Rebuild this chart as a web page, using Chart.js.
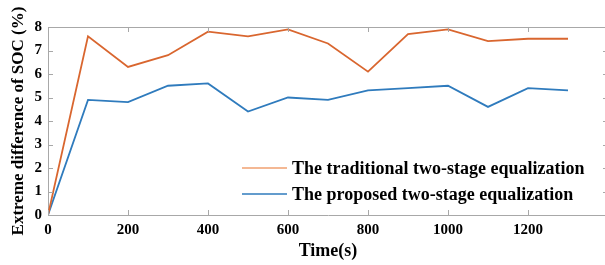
<!DOCTYPE html>
<html>
<head>
<meta charset="utf-8">
<script src="https://cdn.jsdelivr.net/npm/chart.js@4/dist/chart.umd.min.js"></script>
<style>
  html, body { margin: 0; padding: 0; background: #fff; overflow: hidden; }
  #wrap { width: 605px; height: 265px; overflow: hidden; }
</style>
</head>
<body>
<div id="wrap"><canvas id="socChart" width="620" height="265"></canvas></div>
<script>
// data
const times = [0, 100, 200, 300, 400, 500, 600, 700, 800, 900, 1000, 1100, 1200, 1300];
const traditional = [0, 7.6, 6.3, 6.8, 7.8, 7.6, 7.9, 7.3, 6.1, 7.7, 7.9, 7.4, 7.5, 7.5];
const proposed = [0, 4.9, 4.8, 5.5, 5.6, 4.4, 5.0, 4.9, 5.3, 5.4, 5.5, 4.6, 5.4, 5.3];
const seriesNames = ['The traditional two-stage equalization', 'The proposed two-stage equalization'];

const frameColor = '#a8a8a8';
const serif = "'Liberation Serif', 'Times New Roman', serif";

function toPoints(vals) { return times.map((t, i) => ({ x: t, y: vals[i] })); }

// box frame + inward ticks (matlab style)
const framePlugin = {
    id: 'frame',
    afterDraw(chart) {
        const ctx = chart.ctx, a = chart.chartArea;
        const xs = chart.scales.x, ys = chart.scales.y;
        ctx.save();
        ctx.strokeStyle = frameColor;
        ctx.lineWidth = 1;
        ctx.beginPath();
        ctx.moveTo(a.left, a.top + 0.5); ctx.lineTo(a.right, a.top + 0.5);
        ctx.moveTo(a.right - 0.5, a.top); ctx.lineTo(a.right - 0.5, a.bottom);
        xs.ticks.forEach(t => {
            const px = Math.round(xs.getPixelForValue(t.value)) + 0.5;
            ctx.moveTo(px, a.bottom); ctx.lineTo(px, a.bottom - 5);
            ctx.moveTo(px, a.top); ctx.lineTo(px, a.top + 5);
        });
        ys.ticks.forEach(t => {
            const py = Math.round(ys.getPixelForValue(t.value)) + 0.5;
            ctx.moveTo(a.left, py); ctx.lineTo(a.left + 5, py);
            ctx.moveTo(a.right, py); ctx.lineTo(a.right - 5, py);
        });
        ctx.stroke();
        ctx.restore();
    }
};

// legend drawn inside the plot, lower right
const innerLegend = {
    id: 'innerLegend',
    afterDatasetsDraw(chart) {
        const ctx = chart.ctx;
        ctx.save();
        ctx.font = "bold 18px " + serif;
        ctx.textBaseline = 'middle';
        chart.data.datasets.forEach((ds, i) => {
            const y = 168 + i * 26;
            ctx.strokeStyle = ds.legendColor;
            ctx.lineWidth = 1.5;
            ctx.beginPath();
            ctx.moveTo(242, y); ctx.lineTo(287, y);
            ctx.stroke();
            ctx.fillStyle = '#000';
            ctx.fillText(ds.label, 292, y + 1);
        });
        ctx.restore();
    }
};

new Chart(document.getElementById('socChart'), {
    type: 'line',
    data: {
        datasets: [
            { label: seriesNames[0], data: toPoints(traditional), borderColor: '#d9662f', legendColor: '#f0a070', borderWidth: 1.8, pointRadius: 0, tension: 0 },
            { label: seriesNames[1], data: toPoints(proposed), borderColor: '#2f7bbd', legendColor: '#2f7bbd', borderWidth: 1.8, pointRadius: 0, tension: 0 }
        ]
    },
    options: {
        responsive: false,
        animation: false,
        layout: { padding: { top: 27, right: 12, left: 0, bottom: 0 } },
        plugins: { legend: { display: false }, tooltip: { enabled: false } },
        scales: {
            x: {
                type: 'linear', min: 0, max: 1400,
                grid: { display: false, drawTicks: false },
                border: { display: true, color: frameColor },
                ticks: {
                    stepSize: 200, padding: 6, color: '#000',
                    font: { family: serif, size: 15, weight: 'bold' },
                    callback: v => (v >= 1400 ? '' : v)
                },
                title: { display: true, text: 'Time(s)', color: '#000', font: { family: serif, size: 18, weight: 'bold' }, padding: { top: 0, bottom: 3 } },
                afterFit: s => { s.height = 50; }
            },
            y: {
                min: 0, max: 8,
                grid: { display: false, drawTicks: false },
                border: { display: true, color: frameColor },
                ticks: { stepSize: 1, padding: 6, color: '#000', font: { family: serif, size: 15, weight: 'bold' } },
                title: { display: true, text: 'Extreme difference of SOC (%)', color: '#000', font: { family: serif, size: 17, weight: 'bold' }, padding: { top: 8, bottom: 0 } },
                afterFit: s => { s.width = 48; }
            }
        }
    },
    plugins: [framePlugin, innerLegend]
});
</script>
</body>
</html>
